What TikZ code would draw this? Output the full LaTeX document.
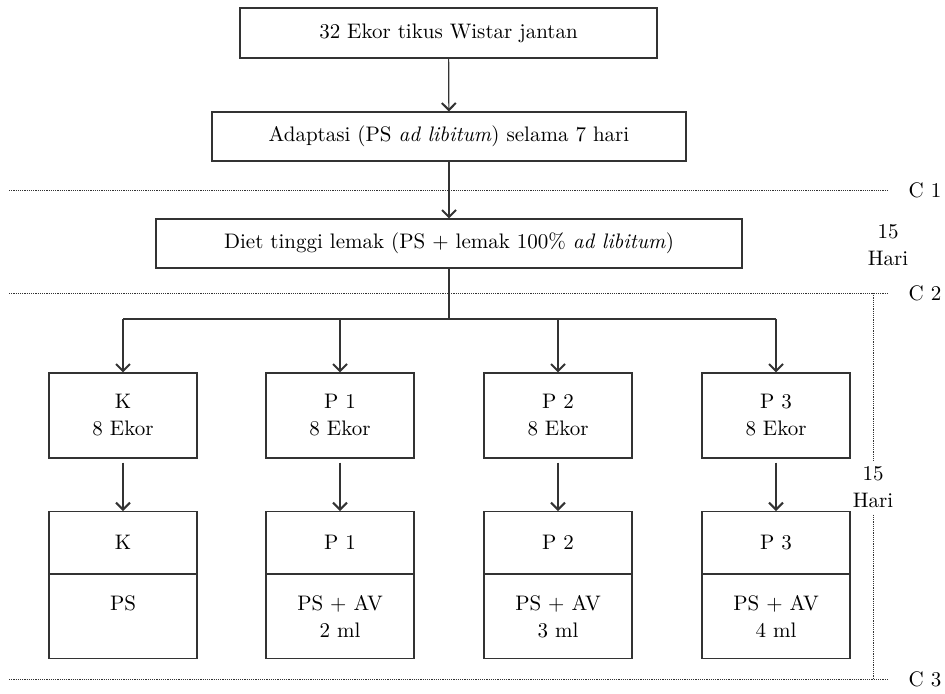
\documentclass[tikz,border=0pt]{standalone}
\usetikzlibrary{arrows.meta, positioning, calc}
\tikzset{
  every picture/.style={line width=0.6pt, font=\fontsize{10.5}{13.5}\selectfont},
  box/.style={draw=black!80, align=center, inner sep=3pt, minimum width=#1},
  box/.default=74pt,
  arrow/.style={-{Straight Barb[length=3.5pt, width=7pt, line width=1pt]}, draw=black!80},
  cut/.style={line width=0.5pt, dash pattern=on 0.6pt off 0.5pt, draw=black!80},
  note/.style={align=center, inner sep=3pt},
}
\begin{document}
\begin{tikzpicture}[x=0.5pt, y=-0.5pt]
  \useasboundingbox (0,0) rectangle (945,693);
  % preparation steps
  \node[box=208.5pt, minimum height=25pt] (rats) at (448.5,33) {32 Ekor tikus Wistar jantan};
  \node[box=237pt, minimum height=24.5pt] (adapt) at (449,136.5) {Adaptasi (PS \textit{ad libitum}) selama 7 hari};
  \node[box=293pt, minimum height=24.5pt] (diet) at (449,243.5) {Diet tinggi lemak (PS + lemak 100\% \textit{ad libitum})};
  \draw[arrow] (rats) -- (adapt);
  \draw[arrow] (adapt) -- (diet);
  % groups and treatment
  \foreach \g/\x/\grp/\dose in {K/123/K/{PS\\\phantom{2 ml}}, P1/340/P 1/{PS + AV\\2 ml}, P2/558/P 2/{PS + AV\\3 ml}, P3/776/P 3/{PS + AV\\4 ml}} {
    \node[box, minimum height=42.5pt] (g\g) at (\x,415.5) {\grp\\8 Ekor};
    \node[box, minimum height=31pt, anchor=north] (t\g) at (\x,511) {\grp};
    \node[box, minimum height=42pt, anchor=north] (d\g) at (t\g.south) {\dose};
    \draw[arrow, shorten <=2pt] (g\g) -- (t\g);
  }
  \coordinate (fork) at (449,319);
  \draw[draw=black!80] (diet) -- (fork);
  \draw[draw=black!80] (fork -| gK) -- (fork -| gP3);
  \foreach \g in {K,P1,P2,P3} \draw[arrow] (fork -| g\g) -- (g\g);
  % time cuts
  \foreach \i/\y in {1/190, 2/293, 3/679} {
    \coordinate (l\i) at (9,\y);
    \coordinate (r\i) at (888,\y);
    \draw[cut] (l\i) -- (r\i);
    \node (c\i) at (925,\y) {C \i};
  }
  \node[note] (days1) at (888,245.5) {15\\Hari};
  \node[note] (days2) at (873,487.5) {15\\Hari};
  \draw[cut] (r2 -| days2) -- (days2);
  \draw[cut] (days2) -- (r3 -| days2);
\end{tikzpicture}
\end{document}
